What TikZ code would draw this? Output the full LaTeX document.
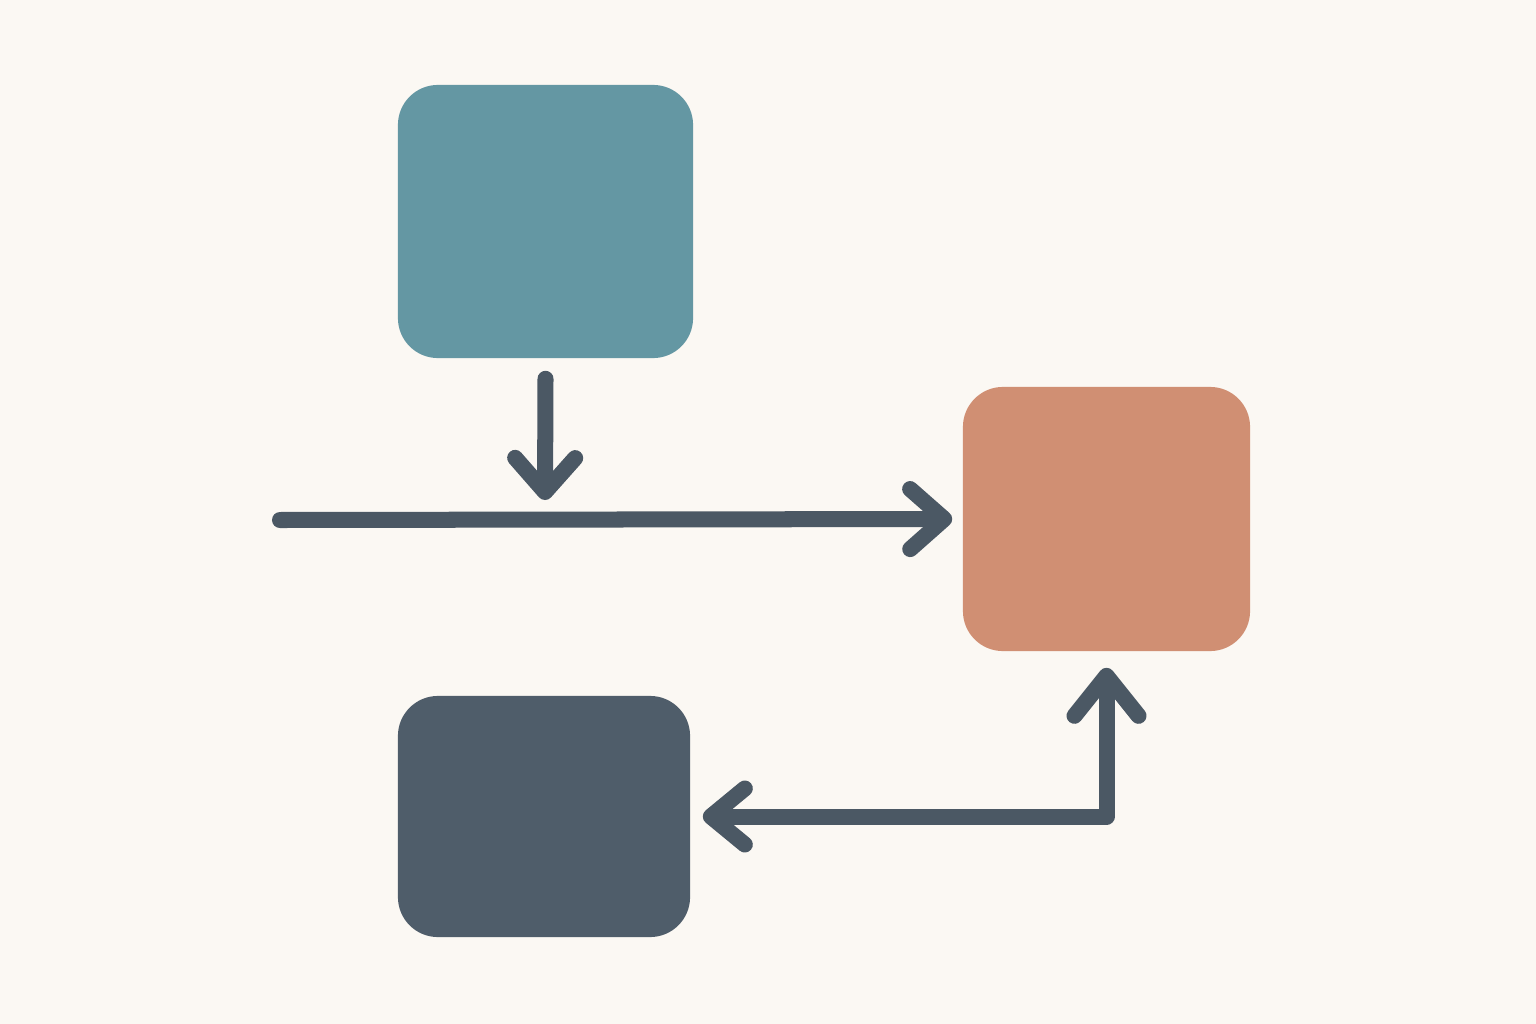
\documentclass[tikz,border=0pt]{standalone}
\usetikzlibrary{arrows.meta}
\definecolor{bgcream}{HTML}{FBF8F3}
\definecolor{tealbox}{HTML}{6497A3}
\definecolor{orangebox}{HTML}{D08F73}
\definecolor{slatebox}{HTML}{4F5D6A}
\definecolor{arrowgray}{HTML}{4B5864}
\tikzset{
  box/.style={rectangle, rounded corners=0.4cm, inner sep=0pt},
  arr/.style={draw=arrowgray, line width=0.16cm, line cap=round, line join=round,
    -{Straight Barb[length=0.34cm, width=0.6cm, round]}},
  arrboth/.style={arr, {Straight Barb[length=0.34cm, width=0.56cm, round]}-{Straight Barb[length=0.4cm, width=0.64cm, round]}}
}
\begin{document}
\begin{tikzpicture}[x=0.01cm, y=-0.01cm]
            % 背景
            \fill[bgcream] (0,0) rectangle (1536,1024);
            \useasboundingbox (0,0) rectangle (1536,1024);

            % 三个方块
            \node[box, fill=tealbox, minimum width=2.95cm, minimum height=2.73cm] (top) at (545.5,221.5) {};
            \node[box, fill=orangebox, minimum width=2.87cm, minimum height=2.64cm] (right) at (1106.5,519) {};
            \node[box, fill=slatebox, minimum width=2.92cm, minimum height=2.41cm] (bottom) at (544,816.5) {};

            % 横线的端点
            \coordinate (start) at (280,520);
            \coordinate (hit) at (545,500);

            % 箭头
            \draw[arr] ([yshift=-0.2cm]top.south) -- (hit); % 下
            \draw[arr] (start) -- ([xshift=-0.1cm]right.west); % 右
            \draw[arrboth] ([xshift=0.12cm]bottom.east) -| ([yshift=-0.16cm]right.south); % 左 + 上

\end{tikzpicture}
\end{document}
